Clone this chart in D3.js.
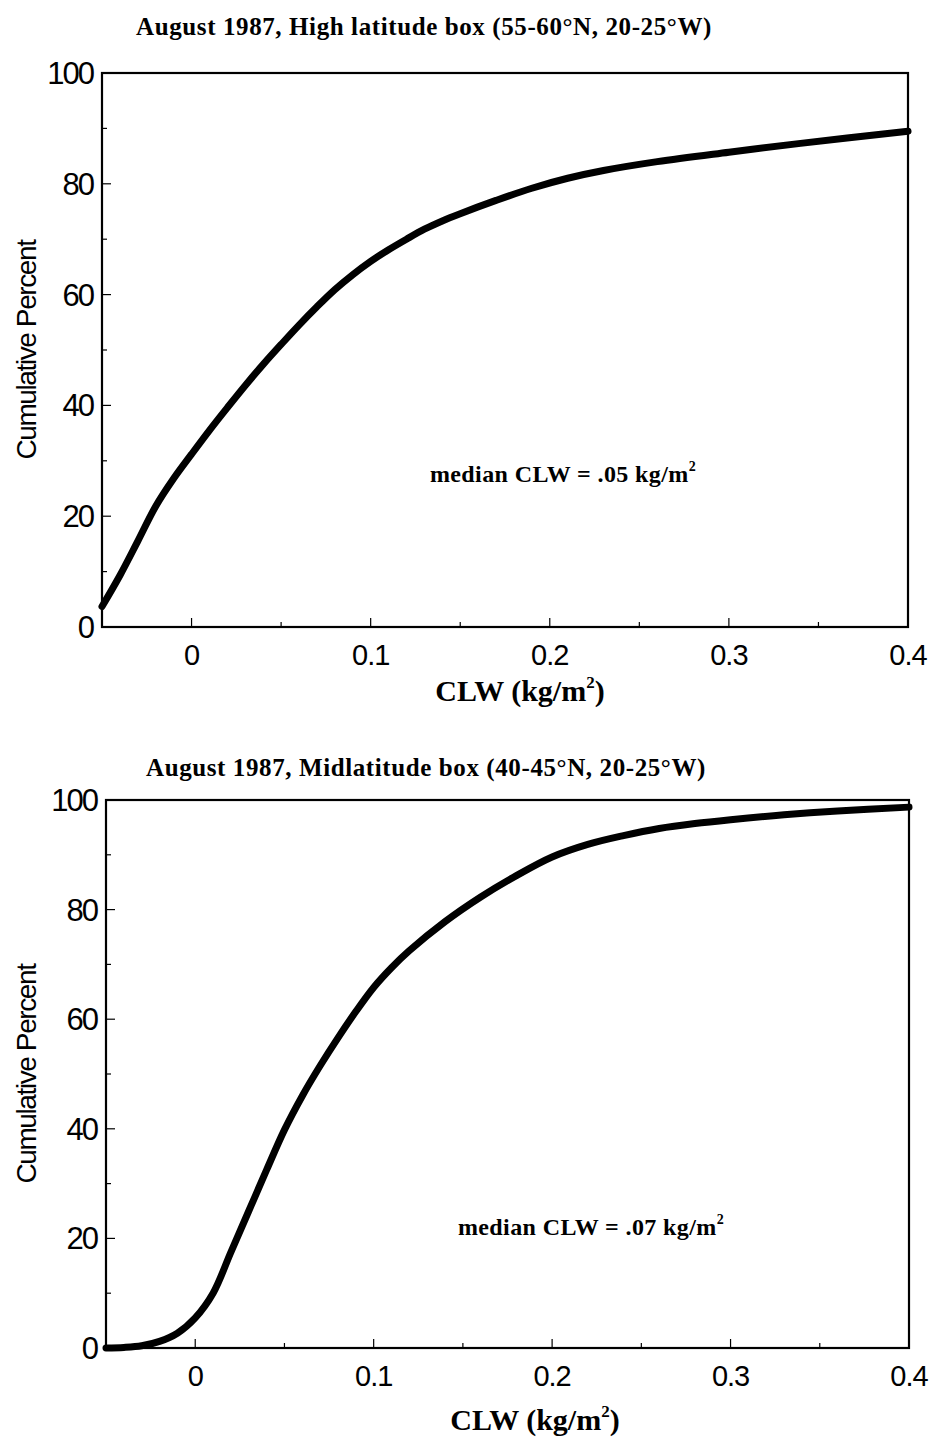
<!DOCTYPE html>
<html>
<head>
<meta charset="utf-8">
<script src="https://cdn.jsdelivr.net/npm/d3@7"></script>
<style>
  html, body { margin: 0; padding: 0; background: #fff; }
  svg { display: block; }
</style>
</head>
<body>
<svg id="chart" width="934" height="1441"></svg>
<script>
// ---- Data ----
const clwHigh = [-0.05, -0.04, -0.03, -0.02, -0.01, 0, 0.01, 0.02, 0.03, 0.04, 0.05, 0.06, 0.07, 0.08, 0.09, 0.10, 0.11, 0.12, 0.13, 0.14, 0.15, 0.17, 0.19, 0.21, 0.23, 0.26, 0.30, 0.34, 0.40];
const pctHigh = [3.7, 9.3, 15.5, 21.8, 26.8, 31.2, 35.5, 39.6, 43.6, 47.4, 51, 54.5, 57.8, 60.9, 63.6, 66, 68.1, 70, 71.8, 73.3, 74.6, 77, 79.2, 81, 82.4, 84, 85.7, 87.3, 89.5];

const clwMid = [-0.05, -0.04, -0.03, -0.02, -0.01, 0, 0.01, 0.02, 0.03, 0.04, 0.05, 0.06, 0.07, 0.08, 0.09, 0.10, 0.11, 0.12, 0.14, 0.16, 0.18, 0.20, 0.22, 0.24, 0.26, 0.28, 0.30, 0.33, 0.36, 0.40];
const pctMid = [0, 0.1, 0.4, 1.2, 2.7, 5.5, 10, 17.5, 25, 32.5, 39.8, 46, 51.5, 56.6, 61.4, 65.8, 69.4, 72.5, 77.8, 82.3, 86.2, 89.6, 91.9, 93.5, 94.8, 95.7, 96.4, 97.3, 98, 98.7];

const xMajorTicks = [0, 0.1, 0.2, 0.3, 0.4];
const xMinorTicks = [0.05, 0.15, 0.25, 0.35];
const yMajorTicks = [0, 20, 40, 60, 80, 100];
const yMinorTicks = [10, 30, 50, 70, 90];

const titles = ["August 1987, High latitude box (55-60°N, 20-25°W)", "August 1987, Midlatitude box (40-45°N, 20-25°W)"];
const medians = [".05", ".07"];

// ---- Layout ----
const panels = [
  { x: clwHigh, y: pctHigh, title: titles[0], median: medians[0],
    left: 102, right: 908, top: 73, bottom: 627,
    titleX: 424, titleY: 35, xlabX: 520, xlabY: 701, ylabX: 36, annX: 563, annY: 482 },
  { x: clwMid, y: pctMid, title: titles[1], median: medians[1],
    left: 106, right: 909, top: 800, bottom: 1348,
    titleX: 426, titleY: 776, xlabX: 535, xlabY: 1430, ylabX: 36, annX: 591, annY: 1235 }
];

const svg = d3.select("#chart");
const sans = "'Liberation Sans', Arial, sans-serif";
const serif = "'Liberation Serif', 'Times New Roman', serif";

panels.forEach(p => {
  const x = d3.scaleLinear().domain([-0.05, 0.4]).range([p.left, p.right]);
  const y = d3.scaleLinear().domain([0, 100]).range([p.bottom, p.top]);
  const g = svg.append("g");

  // title
  g.append("text")
    .attr("x", p.titleX).attr("y", p.titleY)
    .attr("text-anchor", "middle")
    .attr("font-family", serif).attr("font-weight", "bold")
    .attr("font-size", 25)
    .attr("letter-spacing", 0.6)
    .text(p.title);

  // ticks (inward)
  g.selectAll(".xmaj").data(xMajorTicks.slice(0, 4)).enter().append("line")
    .attr("x1", d => x(d)).attr("x2", d => x(d))
    .attr("y1", p.bottom).attr("y2", p.bottom - 9)
    .attr("stroke", "#000").attr("stroke-width", 1.2);
  g.selectAll(".xmin").data(xMinorTicks).enter().append("line")
    .attr("x1", d => x(d)).attr("x2", d => x(d))
    .attr("y1", p.bottom).attr("y2", p.bottom - 5)
    .attr("stroke", "#000").attr("stroke-width", 1.2);
  g.selectAll(".ymaj").data(yMajorTicks.slice(1, 5)).enter().append("line")
    .attr("x1", p.left).attr("x2", p.left + 9)
    .attr("y1", d => y(d)).attr("y2", d => y(d))
    .attr("stroke", "#000").attr("stroke-width", 1.2);
  g.selectAll(".ymin").data(yMinorTicks).enter().append("line")
    .attr("x1", p.left).attr("x2", p.left + 5)
    .attr("y1", d => y(d)).attr("y2", d => y(d))
    .attr("stroke", "#000").attr("stroke-width", 1.2);

  // frame
  g.append("rect")
    .attr("x", p.left).attr("y", p.top)
    .attr("width", p.right - p.left).attr("height", p.bottom - p.top)
    .attr("fill", "none").attr("stroke", "#000").attr("stroke-width", 2.2);

  // tick labels
  g.selectAll(".xl").data(xMajorTicks).enter().append("text")
    .attr("x", d => x(d)).attr("y", p.bottom + 38)
    .attr("text-anchor", "middle")
    .attr("font-family", sans).attr("font-size", 29)
    .attr("letter-spacing", -1)
    .text(d => d === 0 ? "0" : d3.format(".1f")(d));
  g.selectAll(".yl").data(yMajorTicks).enter().append("text")
    .attr("x", p.left - 9).attr("y", d => y(d) + 11)
    .attr("text-anchor", "end")
    .attr("font-family", sans).attr("font-size", 31)
    .attr("letter-spacing", -2)
    .text(d => d);

  // axis labels
  const xl = g.append("text")
    .attr("x", p.xlabX).attr("y", p.xlabY)
    .attr("text-anchor", "middle")
    .attr("font-family", serif).attr("font-weight", "bold")
    .attr("font-size", 30);
  xl.append("tspan").text("CLW (kg/m");
  xl.append("tspan").attr("font-size", 17).attr("dy", -13).text("2");
  xl.append("tspan").attr("dy", 13).text(")");

  g.append("text")
    .attr("transform", `translate(${p.ylabX},${(p.top + p.bottom) / 2}) rotate(-90)`)
    .attr("text-anchor", "middle")
    .attr("font-family", sans).attr("font-size", 28)
    .attr("letter-spacing", -1.4)
    .text("Cumulative Percent");

  // annotation
  const ann = g.append("text")
    .attr("x", p.annX).attr("y", p.annY)
    .attr("text-anchor", "middle")
    .attr("font-family", serif).attr("font-weight", "bold")
    .attr("font-size", 24)
    .attr("letter-spacing", 0.4);
  ann.append("tspan").text(`median CLW = ${p.median} kg/m`);
  ann.append("tspan").attr("font-size", 14).attr("dy", -11).text("2");

  // curve
  const pts = p.x.map((v, i) => [v, p.y[i]]);
  g.append("path")
    .datum(pts)
    .attr("d", d3.line().x(d => x(d[0])).y(d => y(d[1])).curve(d3.curveCatmullRom.alpha(0.5)))
    .attr("fill", "none").attr("stroke", "#000")
    .attr("stroke-width", 7).attr("stroke-linecap", "round").attr("stroke-linejoin", "round");
});
</script>
</body>
</html>
